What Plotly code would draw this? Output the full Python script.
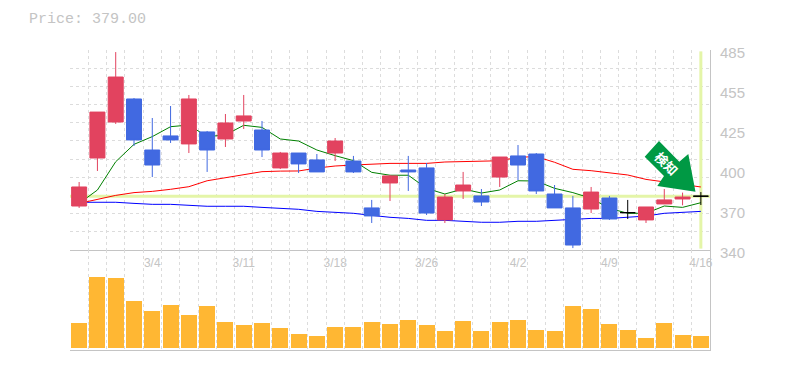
import plotly.graph_objects as go

# ---- data ----
price_text = "Price: 379.00"
last_price = 379.0
date_positions = [4, 9, 14, 19, 24, 29, 34]
date_labels = ["3/4", "3/11", "3/18", "3/26", "4/2", "4/9", "4/16"]
price_tick_vals = [340, 369, 398, 427, 456, 485]
price_tick_text = ["340", "370", "400", "425", "455", "485"]

candle_idx = [0,1,2,3,4,5,6,7,8,9,10,11,12,13,14,15,16,17,18,19,20,21,22,23,24,25,26,27,28,29,31,32,33]
opens  = [371.9,406.7,432.8,449.5,412.5,422.7,416.9,425.6,420.5,433.5,427.0,399.5,410.3,405.3,410.3,404.5,370.5,388.6,398.0,399.5,361.8,382.8,379.2,392.9,408.2,409.6,380.6,370.5,369.7,377.7,361.8,373.4,377.0]
highs  = [389.3,440.0,483.5,450.2,435.7,444.4,452.4,426.3,438.6,452.4,433.5,411.1,410.3,409.6,421.2,408.2,376.3,394.4,408.2,403.1,380.6,396.6,384.2,407.4,416.1,410.3,387.1,379.2,385.7,379.2,371.2,384.2,381.6]
lows   = [370.5,397.3,431.4,415.4,392.9,417.6,410.3,396.6,414.7,427.7,407.4,398.7,395.8,396.6,404.5,395.8,359.6,375.5,382.8,365.4,359.6,377.0,371.9,385.7,390.7,380.6,370.5,341.4,366.8,361.8,359.6,373.4,372.4]
closes = [385.7,440.0,465.4,419.8,401.6,419.8,449.5,412.5,432.1,437.2,412.5,410.3,402.4,396.6,419.0,396.6,364.7,393.7,396.6,366.8,378.4,387.1,374.8,407.4,401.6,382.8,370.5,343.6,382.0,362.5,371.2,376.3,378.4]

doji_idx = [30, 34]
doji_open = [367.1, 379.0]
doji_high = [376.3, 382.0]
doji_low = [362.5, 372.6]
doji_close = [367.1, 379.0]

ma_index = list(range(35))
ma_green = [373.8,383.5,404.0,416.6,422.2,429.4,430.6,422.2,423.4,430.4,428.9,420.5,419.0,412.5,408.4,404.8,396.3,394.2,394.2,384.7,380.6,384.2,381.3,383.5,390.2,390.0,384.7,381.6,377.5,370.2,366.6,366.6,371.9,370.9,374.3]
ma_red = [373.8,376.7,379.6,381.6,382.5,384.0,385.9,390.2,392.4,394.4,396.8,397.2,397.3,399.4,400.9,401.6,402.4,402.8,402.8,402.8,403.8,404.0,404.0,404.7,407.2,407.7,403.6,398.5,397.5,396.1,394.4,391.2,389.5,387.6,385.7]
ma_blue = [374.6,374.6,374.6,373.8,373.1,373.1,372.4,371.7,371.7,371.7,370.9,370.2,369.5,368.0,367.3,366.6,365.1,363.7,362.9,361.5,361.5,360.8,360.1,360.1,360.8,360.8,361.5,362.2,362.9,362.9,363.9,364.6,366.6,367.3,368.0]

volume_idx = list(range(35))
volumes = [25,71,70,47,37,43,33,42,26,23,25,20,14,12,21,21,26,24,28,23,17,27,17,26,28,18,17,42,39,24,18,10,25,13,12]

# ---- styles ----
GRAY = "#c4c4c4"
GRID = "#dcdcdc"
YEL = "#e4f5a8"
UP = "#e2435f"
DOWN = "#4169e1"
VOL = "#ffb733"
W, H = 785, 370
L, R, T, B = 70, 710, 50, 350

def px(x):
    return (x - L) / (R - L)

def py(y):
    return (B - y) / (B - T)

fig = go.Figure()
fig.add_trace(go.Scatter(x=[-0.5, 34.5], y=[last_price, last_price], mode="lines",
                         line=dict(color=YEL, width=3), xaxis="x", yaxis="y", hoverinfo="skip"))
fig.add_trace(go.Scatter(x=[34, 34], y=[341, 484], mode="lines",
                         line=dict(color=YEL, width=3), xaxis="x", yaxis="y", hoverinfo="skip"))
for ma, col in ((ma_blue, "#0000ff"), (ma_red, "#ff0000"), (ma_green, "#008000")):
    fig.add_trace(go.Scatter(x=ma_index, y=ma, mode="lines", line=dict(color=col, width=1),
                             xaxis="x", yaxis="y", hoverinfo="skip"))
fig.add_trace(go.Candlestick(x=candle_idx, open=opens, high=highs, low=lows, close=closes,
                             increasing=dict(line=dict(color=UP, width=1), fillcolor=UP),
                             decreasing=dict(line=dict(color=DOWN, width=1), fillcolor=DOWN),
                             whiskerwidth=0, xaxis="x", yaxis="y3"))
fig.add_trace(go.Candlestick(x=doji_idx, open=doji_open, high=doji_high, low=doji_low, close=doji_close,
                             increasing=dict(line=dict(color="#000000", width=1), fillcolor="#000000"),
                             decreasing=dict(line=dict(color="#000000", width=1), fillcolor="#000000"),
                             whiskerwidth=0, xaxis="x", yaxis="y3"))
fig.add_trace(go.Bar(x=volume_idx, y=volumes, marker=dict(color=VOL, line=dict(width=0)),
                     width=0.875, xaxis="x2", yaxis="y2", hoverinfo="skip"))
# Invisible carrier so the right-hand price scale is kept by the library.
fig.add_trace(go.Scatter(x=[0] * len(price_tick_vals), y=price_tick_vals, mode="lines", opacity=0,
                         line=dict(width=0), xaxis="x3", yaxis="y4", hoverinfo="skip"))

bounds = [i - 0.5 for i in range(36)]
grid_y = [340 + 145 / 11 * k for k in range(12)]
minor_grid = dict(tickmode="array", tickvals=bounds, showgrid=True, gridcolor=GRID,
                  griddash="3px,3px", gridwidth=1, ticklen=0)

arrow_pts = [(659, 141), (644.7, 156.7), (664, 176), (657.3, 186), (695.5, 191.7), (688.3, 154), (679.3, 161.7)]
arrow_path = "M " + " L ".join(f"{px(a):.5f},{py(b):.5f}" for a, b in arrow_pts) + " Z"

fig.update_layout(
    width=W, height=H, autosize=False,
    margin=dict(l=L, r=W - R, t=T, b=H - B, pad=0),
    paper_bgcolor="white", plot_bgcolor="rgba(0,0,0,0)",
    showlegend=False, boxgap=0.18, boxgroupgap=0, bargap=0,
    title=dict(text=price_text, x=29 / W, xanchor="left", xref="container", y=1 - 18 / H, yanchor="middle",
               yref="container", font=dict(family="Liberation Mono", size=15, color=GRAY)),
    xaxis=dict(domain=[0, 1], range=[-0.5, 34.5], anchor="y", rangeslider=dict(visible=False),
               tickmode="array", tickvals=date_positions, ticktext=date_labels, showgrid=False,
               ticks="outside", ticklen=2, tickcolor="rgba(0,0,0,0)", zeroline=False,
               tickfont=dict(family="Liberation Sans", size=12, color=GRAY),
               showline=True, linecolor=GRAY, linewidth=1, minor=minor_grid),
    xaxis2=dict(domain=[0, 1], range=[-0.5, 34.5], anchor="y2", showticklabels=False, ticks="",
                tickmode="array", tickvals=bounds, showgrid=True, gridcolor=GRID, griddash="3px,3px",
                zeroline=False, showline=True, linecolor=GRAY, linewidth=1),
    xaxis3=dict(domain=[0, 1], range=[-0.5, 34.5], anchor="y4", visible=False),
    yaxis=dict(domain=[1 / 3, 1], range=[340, 485], anchor="x", side="right", tickmode="array",
               tickvals=grid_y, showticklabels=False, ticks="", showgrid=True, gridcolor=GRID,
               griddash="3px,3px", zeroline=False, showline=True, linecolor=GRAY, linewidth=1),
    yaxis2=dict(domain=[0, 1 / 3], range=[-2, 98], anchor="x2", side="right", showticklabels=False,
                ticks="", showgrid=False, zeroline=False, showline=True, linecolor=GRAY, linewidth=1),
    yaxis3=dict(overlaying="y", range=[340, 485], anchor="x", side="right", showticklabels=False,
                ticks="", showgrid=False, zeroline=False, showline=False),
    yaxis4=dict(domain=[80 / 300, 1], range=[327.675, 487.175], anchor="x3", side="right",
                tickmode="array", tickvals=price_tick_vals, ticktext=price_tick_text,
                ticks="outside", ticklen=6, tickcolor="rgba(0,0,0,0)", showgrid=False, zeroline=False,
                showline=False, tickfont=dict(family="Liberation Sans", size=15, color=GRAY)),
    shapes=[dict(type="path", path=arrow_path, xref="paper", yref="paper",
                 fillcolor="#009944", line=dict(width=0), layer="above")],
    annotations=[dict(text="<b>検知</b>", x=px(667), y=py(163), xref="paper", yref="paper",
                      xanchor="center", yanchor="middle", showarrow=False, textangle=45,
                      font=dict(family="Noto Sans CJK JP", size=13, color="white"))],
)

fig.write_html("out.html", config=dict(displayModeBar=False),
               post_script="document.body.style.margin='0';")
